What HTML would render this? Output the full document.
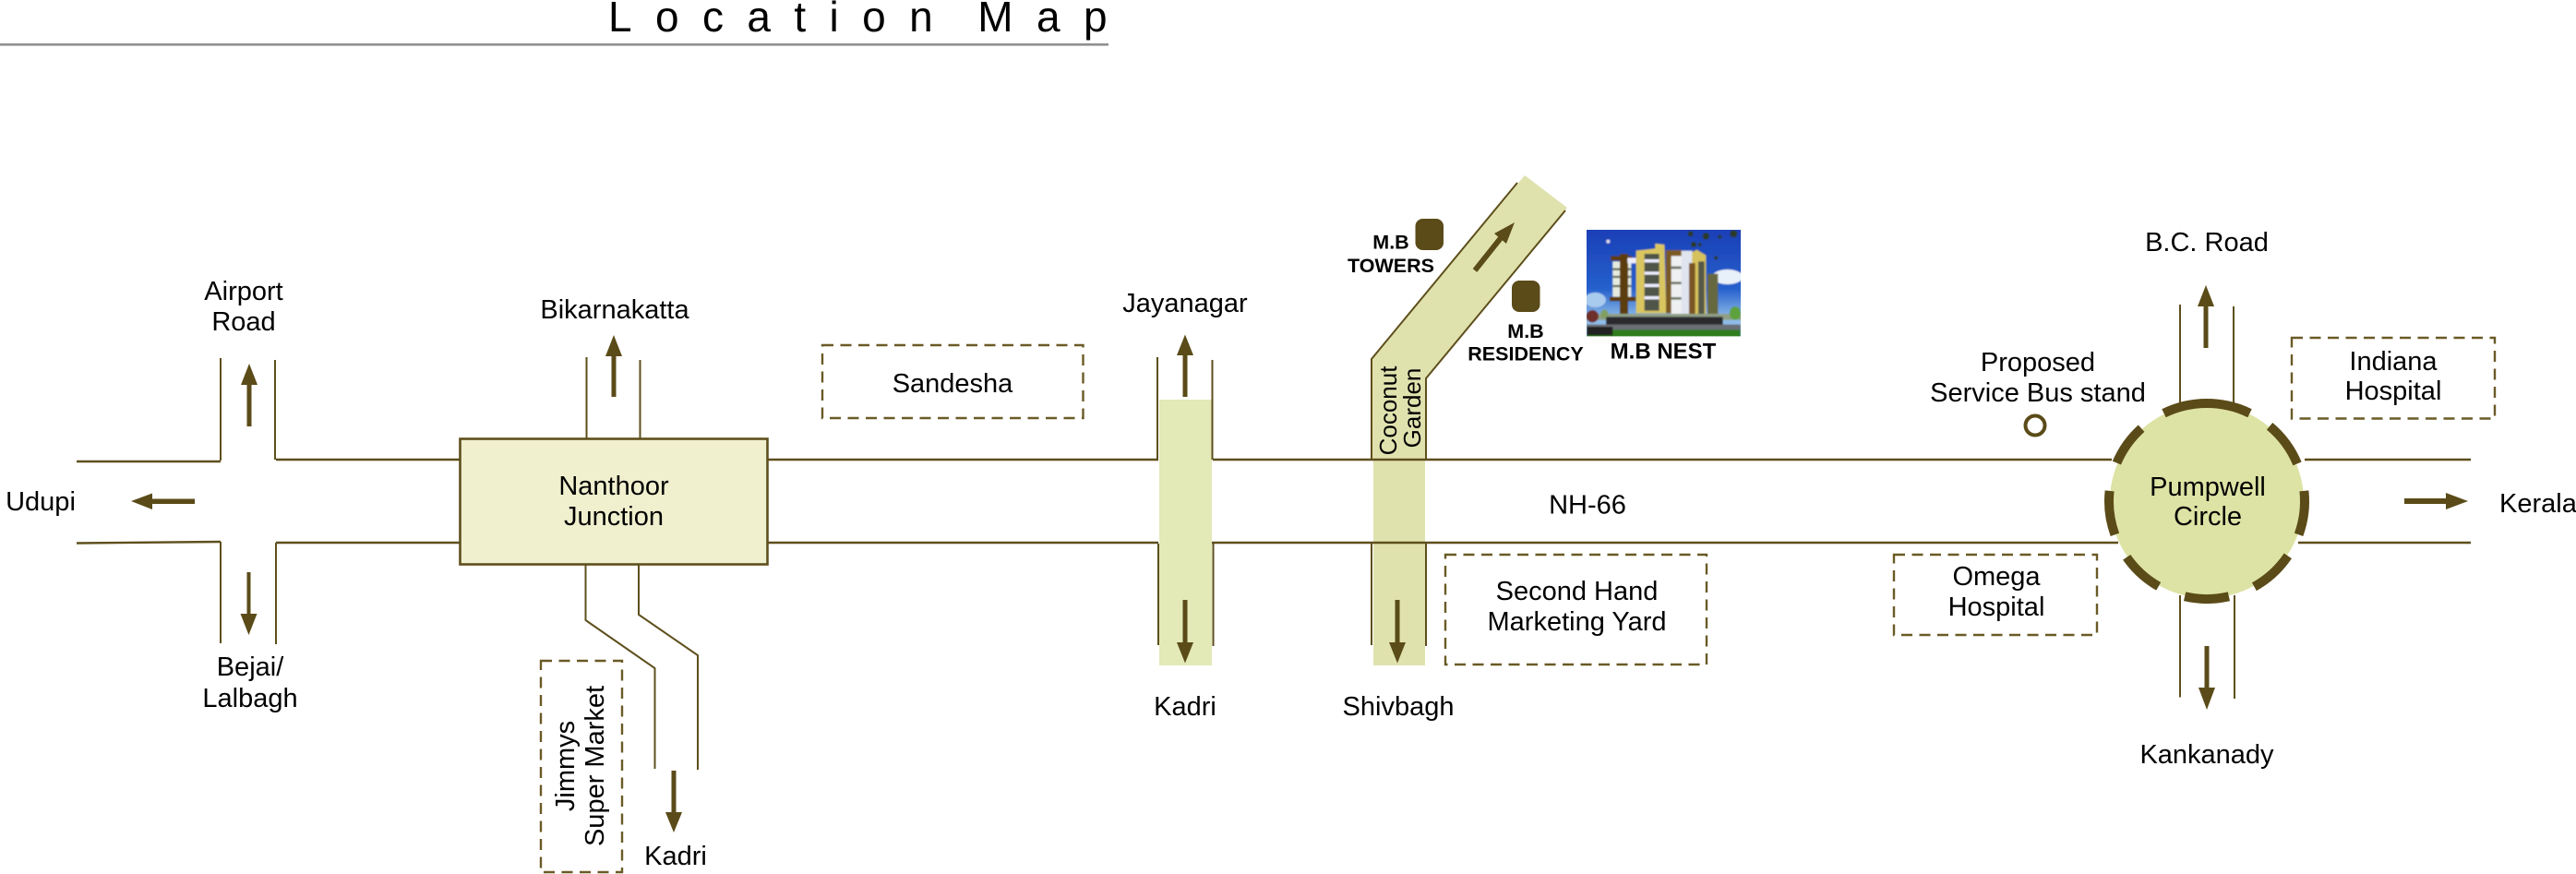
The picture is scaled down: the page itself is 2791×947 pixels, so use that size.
<!DOCTYPE html>
<html><head><meta charset="utf-8"><title>Location Map</title>
<style>
html,body{margin:0;padding:0;background:#fff;width:2791px;height:947px;overflow:hidden}
svg{display:block}
text{font-family:"Liberation Sans",Arial,sans-serif;font-size:29px;fill:#000;text-anchor:middle}
.r{fill:none;stroke:#5e4f1c;stroke-width:2.4}
.t{fill:none;stroke:#5e4f1c;stroke-width:2}
.d{fill:none;stroke:#6a5a26;stroke-width:2.4;stroke-dasharray:12 7.5}
.b{font-weight:bold;font-size:21.5px}
.ring{fill:none;stroke:#5a4b18;stroke-width:10}
</style></head><body>
<svg width="2791" height="947" viewBox="0 0 2791 947" xmlns="http://www.w3.org/2000/svg">
<defs>
<linearGradient id="sky" x1="0" y1="0" x2="0" y2="1"><stop offset="0" stop-color="#1a3cb4"/><stop offset=".55" stop-color="#2560cc"/><stop offset=".8" stop-color="#8fbce8"/></linearGradient>
<clipPath id="pc"><rect x="57" y="27" width="501" height="346"/></clipPath>
<filter id="bl" x="-5%" y="-5%" width="110%" height="110%"><feGaussianBlur stdDeviation="2.500"/></filter>
</defs>
<rect width="2791" height="947" fill="#fff"/>

<!-- title -->
<text x="659" y="34" style="font-size:46px;text-anchor:start;letter-spacing:25.4px;word-spacing:-15px">Location Map</text>
<rect x="0" y="47" width="1201" height="2.6" fill="#8f8f8f"/>

<!-- green bands -->
<rect x="1256" y="433" width="57" height="288" fill="#e3e9b7"/>
<path d="M1486 498V389L1652 190L1698 225L1545 410V498Z" fill="#e0e2ae"/>
<rect x="1488" y="498" width="56" height="223" fill="#e0e2ae"/>

<!-- main road -->
<path class="r" d="M83 500H239M299 498H498M832 498H1255M1314 498H2288M2497 498H2677"/>
<path class="r" d="M83 588.500L239 587M299 588H498M832 588H1255M1313 588H2295M2490 588H2677"/>

<!-- left cross -->
<path class="t" d="M239 388V499M298 390V498M239 587V697M299 588V698"/>
<!-- Bikarnakatta -->
<path class="t" d="M635.500 387V476M693.500 390V476"/>
<!-- Nanthoor down road -->
<path class="t" d="M634.500 612V672L709.500 724V833M692 612V666L756 710V834"/>
<!-- Jayanagar / Kadri -->
<path class="t" d="M1254 387V498M1313.500 390V498M1255 589V699M1314.500 589V700" />
<!-- Coconut outline -->
<path class="t" d="M1644 198L1486 389V498M1696 228L1545 410V498M1486 589V699M1545 589V700"/>
<!-- Pumpwell roads -->
<path class="t" d="M2362 330V440M2420 332V440M2362 645V755.500M2421 645V757"/>

<!-- Nanthoor box -->
<rect x="498.500" y="475.500" width="333" height="136" fill="#f0f0cf" stroke="#5e4f1c" stroke-width="2.600"/>

<!-- Pumpwell circle -->
<circle cx="2391" cy="543" r="105" fill="#dde3a4"/>
<path class="ring" d="M2344.500 447.700A106 106 0 0 1 2437.500 447.700"/>
<path class="ring" d="M2459.100 461.800A106 106 0 0 1 2489 502.400"/>
<path class="ring" d="M2496.400 531.900A106 106 0 0 1 2490.600 579.300"/>
<path class="ring" d="M2478.800 602.300A106 106 0 0 1 2442.400 635.700"/>
<path class="ring" d="M2414.900 646.300A106 106 0 0 1 2367.100 646.300"/>
<path class="ring" d="M2338.700 635.300A106 106 0 0 1 2304.200 603.800"/>
<path class="ring" d="M2291.400 579.300A106 106 0 0 1 2285.600 531.900"/>
<path class="ring" d="M2293.400 501.600A106 106 0 0 1 2320.100 464.200"/>

<!-- arrows -->
<g fill="#5a4b18">
<path d="M267.500 462V417H261L270 394L279 417H272.500V462Z"/>
<path d="M662.500 430V386H656L665 363L674 386H667.500V430Z"/>
<path d="M211 540.500H165V534.500L142 543L165 552V546H211Z"/>
<path d="M267.500 620V665H260.500L269.500 688L278.500 665H271.500V620Z"/>
<path d="M727.500 835V880H721L730 902L739 880H732.500V835Z"/>
<path d="M1281.500 430V385H1275L1284 362.500L1293 385H1286.500V430Z"/>
<path d="M1281.500 650V696H1275L1284 718.500L1293 696H1286.500V650Z"/>
<path d="M1511.500 650V696H1505L1514 718.500L1523 696H1516.500V650Z"/>
<path d="M1595.700 291.100L1623.200 256.600L1619 253L1641 241L1632 264L1627.800 260.400L1600.300 294.900Z"/>
<path d="M2387.500 377V332H2381L2390 309L2399 332H2392.500V377Z"/>
<path d="M2388.500 700V745H2382L2391 769L2400 745H2393.500V700Z"/>
<path d="M2605 540H2650V534L2674 543L2650 552V546H2605Z"/>
</g>

<!-- dashed boxes -->
<rect class="d" x="891" y="374" width="282.500" height="79"/>
<rect class="d" x="586" y="716" width="88" height="229"/>
<rect class="d" x="1566" y="601" width="283" height="119"/>
<rect class="d" x="2052" y="601" width="220" height="87"/>
<rect class="d" x="2483" y="366" width="220" height="87.500"/>

<!-- buildings -->
<rect x="1533.500" y="237" width="30.500" height="34" rx="8" fill="#5a4b18"/>
<rect x="1638" y="304" width="30.500" height="34" rx="8" fill="#5a4b18"/>
<circle cx="2205" cy="461" r="10.500" fill="none" stroke="#5a4b18" stroke-width="4"/>

<!-- photo -->
<g transform="translate(1700 240) scale(.33333)" clip-path="url(#pc)">
<g filter="url(#bl)">
<rect x="40" y="10" width="535" height="380" fill="url(#sky)"/>
<ellipse cx="515" cy="180" rx="50" ry="24" fill="#e8f0fa"/>
<ellipse cx="85" cy="255" rx="35" ry="24" fill="#a9cbee"/>
<circle cx="127" cy="65" r="6" fill="#dde"/>
<g fill="#2a3a28"><circle cx="395" cy="40" r="9"/><circle cx="445" cy="48" r="11"/><circle cx="405" cy="75" r="9"/><circle cx="425" cy="75" r="6"/><circle cx="535" cy="40" r="12"/><circle cx="490" cy="50" r="6"/><circle cx="478" cy="118" r="6"/></g>
<rect x="135" y="112" width="70" height="15" fill="#5c3d10"/>
<rect x="142" y="130" width="60" height="115" fill="#e6ebe0"/>
<path d="M142 155h60M142 180h60M142 210h60" stroke="#5c6a50" stroke-width="7"/>
<rect x="165" y="105" width="27" height="195" fill="#5c3d10"/>
<rect x="132" y="245" width="85" height="14" fill="#5c3d10"/>
<rect x="190" y="118" width="28" height="18" fill="#eef"/>
<path d="M218 95L280 88V72L310 75L316 298H218Z" fill="#d9c660"/>
<rect x="245" y="105" width="48" height="185" fill="#4f5548"/>
<path d="M245 128h48M245 168h48M245 208h48M245 248h48" stroke="#eef" stroke-width="10"/>
<rect x="315" y="93" width="52" height="205" fill="#7a5a20"/>
<rect x="332" y="112" width="36" height="190" fill="#eef0f2"/>
<path d="M332 150h36M332 200h36M332 250h36" stroke="#6a6f60" stroke-width="8"/>
<rect x="365" y="95" width="36" height="220" fill="#dfe4ee"/>
<path d="M400 100L415 92L445 110V310H400Z" fill="#d6c25c"/>
<rect x="390" y="135" width="20" height="170" fill="#7a5420"/>
<rect x="420" y="130" width="20" height="175" fill="#55584a"/>
<rect x="450" y="170" width="34" height="140" fill="#66683f"/>
<rect x="40" y="300" width="530" height="20" fill="#8f9f85"/>
<rect x="120" y="310" width="380" height="26" fill="#2a2a2e"/>
<rect x="57" y="335" width="501" height="18" fill="#6b6e74"/>
<rect x="57" y="352" width="501" height="30" fill="#2f7c1d"/>
<rect x="57" y="342" width="85" height="28" fill="#222"/>
<ellipse cx="76" cy="308" rx="20" ry="20" fill="#6e2e2a"/>
<ellipse cx="115" cy="300" rx="12" ry="14" fill="#7fa060"/>
<ellipse cx="540" cy="298" rx="18" ry="22" fill="#5da23c"/>
</g>
</g>

<!-- labels -->
<text x="264" y="325">Airport</text><text x="264" y="358">Road</text>
<text x="666" y="345">Bikarnakatta</text>
<text x="1032" y="425">Sandesha</text>
<text x="44" y="553">Udupi</text>
<text x="271" y="732">Bejai/</text><text x="271" y="766">Lalbagh</text>
<text x="665" y="536">Nanthoor</text><text x="665" y="569">Junction</text>
<text x="732" y="937">Kadri</text>
<text transform="translate(622 830) rotate(-90)">Jimmys</text>
<text transform="translate(654 830) rotate(-90)">Super Market</text>
<text x="1284" y="338">Jayanagar</text>
<text x="1284" y="775">Kadri</text>
<text x="1515" y="775">Shivbagh</text>
<text x="1720" y="556.500">NH-66</text>
<text x="1708.500" y="650">Second Hand</text><text x="1708.500" y="683">Marketing Yard</text>
<text transform="translate(1513 445) rotate(-90)" style="font-size:26px">Coconut</text>
<text transform="translate(1539 442) rotate(-90)" style="font-size:26px">Garden</text>
<text class="b" x="1507" y="269.500">M.B</text><text class="b" x="1507" y="295">TOWERS</text>
<text class="b" x="1653" y="366">M.B</text><text class="b" x="1653" y="390.500">RESIDENCY</text>
<text class="b" x="1802" y="388.500" style="font-size:24px">M.B NEST</text>
<text x="2391" y="272">B.C. Road</text>
<text x="2208" y="402">Proposed</text><text x="2208" y="435">Service Bus stand</text>
<text x="2593" y="401">Indiana</text><text x="2593" y="433">Hospital</text>
<text x="2392" y="537">Pumpwell</text><text x="2392" y="569">Circle</text>
<text x="2163" y="634">Omega</text><text x="2163" y="667">Hospital</text>
<text x="2391" y="827">Kankanady</text>
<text x="2708" y="555" style="text-anchor:start">Kerala</text>
</svg>
</body></html>
